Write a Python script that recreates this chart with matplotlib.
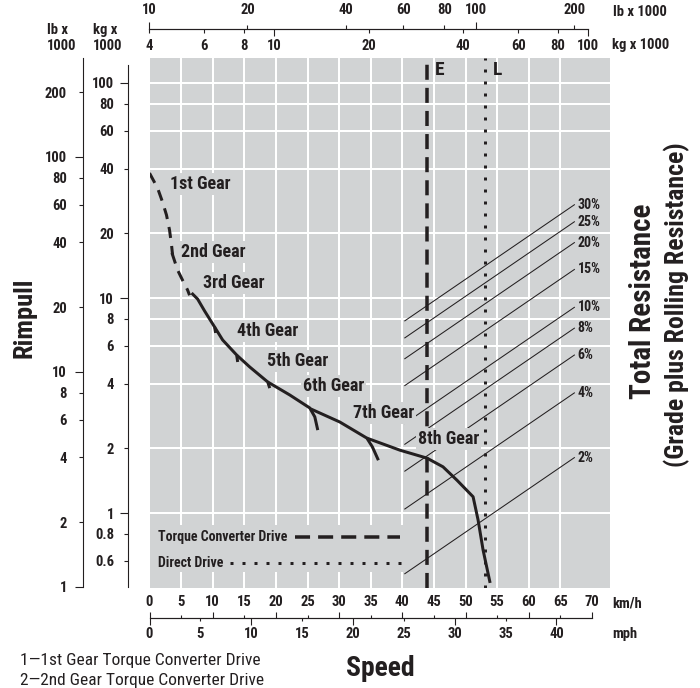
import matplotlib
matplotlib.use('Agg')
import matplotlib.pyplot as plt
from matplotlib import transforms
from matplotlib.ticker import FixedLocator, FuncFormatter
from matplotlib.patches import Rectangle

plt.rcParams['font.family'] = ['Roboto Condensed', 'DejaVu Sans']

# ---------------- data ----------------
gear_names = ['1st Gear', '2nd Gear', '3rd Gear', '4th Gear',
              '5th Gear', '6th Gear', '7th Gear', '8th Gear']
# speed in km/h, rimpull in kg x 1000
gear1_kmh = [0.0, 1.27, 2.06, 2.69, 3.17, 3.49, 3.65]
gear1_kg = [38.1, 32.5, 27.96, 24.3, 20.7, 17.6, 15.85]
gear2_kmh = [3.55, 4.44, 5.23, 6.02, 6.34]
gear2_kg = [16.2, 13.5, 12.1, 10.9, 10.3]
gear3_kmh = [6.66, 7.61, 8.72, 10.30, 10.46]
gear3_kg = [10.55, 9.89, 8.70, 7.33, 6.88]
gear4_kmh = [10.30, 11.57, 13.79, 13.95]
gear4_kg = [7.33, 6.38, 5.43, 5.04]
gear5_kmh = [13.79, 15.85, 18.70, 19.02]
gear5_kg = [5.43, 4.78, 4.07, 3.81]
gear6_kmh = [18.70, 22.19, 25.36, 26.15, 26.62]
gear6_kg = [4.07, 3.54, 3.08, 2.80, 2.43]
gear7_kmh = [25.5, 30.11, 34.39, 35.26, 36.21]
gear7_kg = [3.05, 2.65, 2.23, 2.03, 1.76]
gear8_kmh = [34.39, 39.62, 43.90, 46.43, 48.65, 51.19, 51.98, 52.77, 53.88]
gear8_kg = [2.23, 1.96, 1.80, 1.64, 1.42, 1.19, 0.928, 0.673, 0.473]
gear_converter = [True, True, False, False, False, False, False, False]

# total resistance lines (grade %), drawn over the gross-weight range (kg x 1000)
grades = [30, 25, 20, 15, 10, 8, 6, 4, 2]
grade_weight_range = [26.1, 90.5]
empty_weight = 30.8     # kg x 1000  (E)
loaded_weight = 47.0    # kg x 1000  (L)

# axis ticks
top_kg_ticks = [4, 6, 8, 10, 20, 40, 60, 80, 100]
top_lb_ticks = [10, 20, 40, 60, 80, 100, 200]
rim_kg_ticks = [100, 80, 60, 40, 20, 10, 8, 6, 4, 2, 1, 0.8, 0.6]
rim_lb_ticks = [200, 100, 80, 60, 40, 20, 10, 8, 6, 4, 2, 1]
kmh_ticks = list(range(0, 71, 5))
mph_ticks = list(range(0, 41, 5))
grid_kg = [100, 80, 60, 40, 20, 10, 8, 6, 4, 2, 1]
grid_kmh = list(range(5, 66, 5))
KG_PER_LB = 0.4536
KMH_PER_MPH = 1.609344

# ---------------- style ----------------
GRAY = '#d1d3d4'
INK = '#231f20'
W, H = 700, 688
PX = 72 / 100.0  # points per pixel
TICK_FS = 10.5


def fx(x):
    return x / W


def fy(y):
    return 1 - y / H


def fmt(v, p=None):
    return f'{v:g}'


def bold_labels(axis_obj):
    for lab in axis_obj.get_ticklabels(which='both'):
        lab.set_fontweight('bold')


fig = plt.figure(figsize=(W / 100, H / 100), dpi=100)

# ---------------- main rimpull plot ----------------
ax = fig.add_axes([fx(149.5), fy(588), (610 - 149.5) / W, (588 - 57.5) / H])
ax.set_facecolor(GRAY)
ax.set_yscale('log')
ax.set_ylim(0.448, 131.4)
ax.set_xlim(0, 70 * (610 - 149.5) / (592 - 149.5))
for s in ['top', 'right', 'bottom']:
    ax.spines[s].set_visible(False)
ax.spines['left'].set_position(('outward', 22 * PX))
ax.spines['left'].set_bounds(0.453, 121)
ax.spines['left'].set_linewidth(1.1 * PX)
ax.spines['left'].set_color(INK)
ax.set_xticks([])
ax.yaxis.set_major_locator(FixedLocator([t for t in rim_kg_ticks if t in (1, 10, 100)]))
ax.yaxis.set_minor_locator(FixedLocator([t for t in rim_kg_ticks if t not in (1, 10, 100)]))
ax.yaxis.set_major_formatter(FuncFormatter(fmt))
ax.yaxis.set_minor_formatter(FuncFormatter(fmt))
ax.tick_params(axis='y', which='major', length=8 * PX, width=1.1 * PX, pad=5.5 * PX,
               labelsize=TICK_FS, colors=INK)
ax.tick_params(axis='y', which='minor', length=4 * PX, width=1.1 * PX, pad=9.5 * PX,
               labelsize=TICK_FS, colors=INK)
bold_labels(ax.yaxis)

# grid
for g in grid_kg:
    ax.axhline(g, color='white', lw=2 * PX, zorder=0.5)
for v in grid_kmh:
    ax.axvline(v, color='white', lw=2 * PX, zorder=0.5)

# lb rimpull axis
ax_lb = ax.twinx()
ax_lb.set_yscale('log')
ax_lb.set_ylim(0.448 / KG_PER_LB, 131.4 / KG_PER_LB)
for s in ['top', 'right', 'bottom']:
    ax_lb.spines[s].set_visible(False)
ax_lb.spines['left'].set_visible(True)
ax_lb.spines['left'].set_position(('outward', 66.5 * PX))
ax_lb.spines['left'].set_bounds(1.0, 289)
ax_lb.spines['left'].set_linewidth(1.1 * PX)
ax_lb.spines['left'].set_color(INK)
ax_lb.yaxis.set_ticks_position('left')
ax_lb.yaxis.set_major_locator(FixedLocator([t for t in rim_lb_ticks if t in (1, 10, 100)]))
ax_lb.yaxis.set_minor_locator(FixedLocator([t for t in rim_lb_ticks if t not in (1, 10, 100)]))
ax_lb.yaxis.set_major_formatter(FuncFormatter(fmt))
ax_lb.yaxis.set_minor_formatter(FuncFormatter(fmt))
ax_lb.tick_params(axis='y', which='major', length=8 * PX, width=1.1 * PX, pad=8 * PX,
                  labelsize=TICK_FS, colors=INK)
ax_lb.tick_params(axis='y', which='minor', length=4 * PX, width=1.1 * PX, pad=12 * PX,
                  labelsize=TICK_FS, colors=INK)
bold_labels(ax_lb.yaxis)

# ---------------- top gross weight scales ----------------
axk = fig.add_axes([fx(149), fy(29), (588 - 149) / W, 0.5 / H])
axk.set_xscale('log')
axk.set_xlim(4, 100)
axk.patch.set_visible(False)
axk.set_yticks([])
for s in ['top', 'left', 'right']:
    axk.spines[s].set_visible(False)
axk.spines['bottom'].set_linewidth(1.2 * PX)
axk.spines['bottom'].set_color(INK)
axk.xaxis.set_major_locator(FixedLocator([t for t in top_kg_ticks if t in (10, 100)]))
axk.xaxis.set_minor_locator(FixedLocator([t for t in top_kg_ticks if t not in (10, 100)]))
axk.xaxis.set_major_formatter(FuncFormatter(fmt))
axk.xaxis.set_minor_formatter(FuncFormatter(fmt))
axk.tick_params(axis='x', which='major', length=7 * PX, width=1.1 * PX, pad=3 * PX,
                labelsize=TICK_FS, colors=INK)
axk.tick_params(axis='x', which='minor', length=4 * PX, width=1.1 * PX, pad=6 * PX,
                labelsize=TICK_FS, colors=INK)
bold_labels(axk.xaxis)

axl = fig.add_axes([fx(149), fy(29), (588 - 149) / W, 0.5 / H])
axl.set_xscale('log')
axl.set_xlim(10, 10 * 10 ** (439 / 327))
axl.patch.set_visible(False)
axl.set_yticks([])
for s in axl.spines.values():
    s.set_visible(False)
axl.xaxis.tick_top()
axl.xaxis.set_major_locator(FixedLocator([t for t in top_lb_ticks if t in (10, 100)]))
axl.xaxis.set_minor_locator(FixedLocator([t for t in top_lb_ticks if t not in (10, 100)]))
axl.xaxis.set_major_formatter(FuncFormatter(fmt))
axl.xaxis.set_minor_formatter(FuncFormatter(fmt))
axl.tick_params(axis='x', which='major', length=7 * PX, width=1.1 * PX, pad=4 * PX,
                labelsize=TICK_FS, colors=INK)
axl.tick_params(axis='x', which='minor', length=4 * PX, width=1.1 * PX, pad=7 * PX,
                labelsize=TICK_FS, colors=INK)
bold_labels(axl.xaxis)

fig.text(fx(613), fy(12), 'lb x 1000', ha='left', va='center', fontsize=TICK_FS,
         fontweight='bold', color=INK)
fig.text(fx(612), fy(45), 'kg x 1000', ha='left', va='center', fontsize=TICK_FS,
         fontweight='bold', color=INK)
fig.text(fx(47), fy(38), 'lb x\n1000', ha='left', va='center', fontsize=TICK_FS,
         fontweight='bold', color=INK, linespacing=1.2)
fig.text(fx(93), fy(38), 'kg x\n1000', ha='left', va='center', fontsize=TICK_FS,
         fontweight='bold', color=INK, linespacing=1.2)

# ---------------- bottom speed scales ----------------
axs = fig.add_axes([fx(149.5), fy(618), (592 - 149.5) / W, 0.5 / H])
axs.set_xlim(0, 70)
axs.patch.set_visible(False)
axs.set_yticks([])
for s in ['top', 'left', 'right']:
    axs.spines[s].set_visible(False)
axs.spines['bottom'].set_linewidth(1.2 * PX)
axs.spines['bottom'].set_color(INK)
axs.xaxis.tick_top()
axs.xaxis.set_major_locator(FixedLocator([t for t in kmh_ticks if t % 10 == 0]))
axs.xaxis.set_minor_locator(FixedLocator([t for t in kmh_ticks if t % 10 != 0]))
axs.xaxis.set_major_formatter(FuncFormatter(fmt))
axs.xaxis.set_minor_formatter(FuncFormatter(fmt))
axs.tick_params(axis='x', which='major', length=6 * PX, width=1.1 * PX, pad=2 * PX,
                labelsize=TICK_FS, colors=INK)
axs.tick_params(axis='x', which='minor', length=3 * PX, width=1.1 * PX, pad=5 * PX,
                labelsize=TICK_FS, colors=INK)
bold_labels(axs.xaxis)

sec = axs.secondary_xaxis('bottom', functions=(lambda k: k / KMH_PER_MPH,
                                               lambda m: m * KMH_PER_MPH))
sec.spines['bottom'].set_visible(False)
sec.xaxis.set_major_locator(FixedLocator([t for t in mph_ticks if t % 10 == 0]))
sec.xaxis.set_minor_locator(FixedLocator([t for t in mph_ticks if t % 10 != 0]))
sec.xaxis.set_major_formatter(FuncFormatter(fmt))
sec.xaxis.set_minor_formatter(FuncFormatter(fmt))
sec.tick_params(axis='x', which='major', length=7 * PX, width=1.1 * PX, pad=2 * PX,
                labelsize=TICK_FS, colors=INK)
sec.tick_params(axis='x', which='minor', length=3 * PX, width=1.1 * PX, pad=6 * PX,
                labelsize=TICK_FS, colors=INK)
bold_labels(sec.xaxis)

fig.text(fx(612), fy(604), 'km/h', ha='left', va='center', fontsize=TICK_FS,
         fontweight='bold', color=INK)
fig.text(fx(612), fy(634), 'mph', ha='left', va='center', fontsize=TICK_FS,
         fontweight='bold', color=INK)

# ---------------- resistance lines, E / L lines ----------------
trans_w = transforms.blended_transform_factory(axk.transData, ax.transData)
trans_wa = transforms.blended_transform_factory(axk.transData, ax.transAxes)
for g in grades:
    rims = [w * g / 100 for w in grade_weight_range]
    ax.plot(grade_weight_range, rims, transform=trans_w, color=INK, lw=0.75, zorder=2)
    ax.annotate(f'{g}%', xy=(grade_weight_range[1], rims[1]), xycoords=trans_w,
                xytext=(3 * PX, 0), textcoords='offset points', ha='left', va='center',
                fontsize=10, fontweight='bold', color=INK)

ax.plot([empty_weight, empty_weight], [0, 1], transform=trans_wa, color=INK,
        lw=3.5 * PX, ls=(0, (4.3, 2.3)), dash_capstyle='butt', zorder=3)
ax.plot([loaded_weight, loaded_weight], [0, 1], transform=trans_wa, color=INK,
        lw=3 * PX, ls=(0, (1, 3)), dash_capstyle='butt', zorder=3)
ax.annotate('E', xy=(empty_weight, 1), xycoords=trans_wa, xytext=(12.5 * PX, -12.5 * PX),
            textcoords='offset points', ha='center', va='center', fontsize=14,
            fontweight='bold', color=INK)
ax.annotate('L', xy=(loaded_weight, 1), xycoords=trans_wa, xytext=(13 * PX, -12.5 * PX),
            textcoords='offset points', ha='center', va='center', fontsize=14,
            fontweight='bold', color=INK)

# ---------------- gear curves ----------------
gears_kmh = [gear1_kmh, gear2_kmh, gear3_kmh, gear4_kmh, gear5_kmh, gear6_kmh,
             gear7_kmh, gear8_kmh]
gears_kg = [gear1_kg, gear2_kg, gear3_kg, gear4_kg, gear5_kg, gear6_kg,
            gear7_kg, gear8_kg]
for xs, ys, tc in zip(gears_kmh, gears_kg, gear_converter):
    if tc:
        ax.plot(xs, ys, color=INK, lw=3 * PX, ls=(0, (3.7, 2.7)),
                dash_capstyle='butt', zorder=4)
    else:
        ax.plot(xs, ys, color=INK, lw=3 * PX, solid_capstyle='butt',
                solid_joinstyle='round', zorder=4)

# gear labels (pixel anchors: left edge, vertical centre)
gear_label_px = [(170, 184), (181, 252), (203, 283), (237, 331),
                 (267, 361), (303, 386), (353, 413), (418, 439)]
for name, (lx, ly) in zip(gear_names, gear_label_px):
    fig.text(fx(lx), fy(ly), name, ha='left', va='center', fontsize=13,
             fontweight='bold', color=INK,
             bbox=dict(boxstyle='square,pad=0.12', fc=GRAY, ec='none'))

# ---------------- legend box ----------------
x_leg_end = (404 - 149.5) / 460.5
ax.add_patch(Rectangle((0, (588 - 572) / 530.5), x_leg_end, (572 - 525) / 530.5,
                       transform=ax.transAxes, fc=GRAY, ec='none', zorder=1))
y_tc = (588 - 537) / 530.5
y_dd = (588 - 563) / 530.5
ax.plot([(295 - 149.5) / 460.5, (400 - 149.5) / 460.5], [y_tc, y_tc],
        transform=ax.transAxes, color=INK, lw=3.5 * PX, ls=(0, (4.3, 2.3)),
        dash_capstyle='butt', zorder=3)
ax.plot([(230 - 149.5) / 460.5, (402 - 149.5) / 460.5], [y_dd, y_dd],
        transform=ax.transAxes, color=INK, lw=3 * PX, ls=(0, (1, 3)),
        dash_capstyle='butt', zorder=3)
ax.text((158 - 149.5) / 460.5, y_tc, 'Torque Converter Drive', transform=ax.transAxes,
        ha='left', va='center', fontsize=10, fontweight='bold', color=INK)
ax.text((158 - 149.5) / 460.5, y_dd, 'Direct Drive', transform=ax.transAxes,
        ha='left', va='center', fontsize=10, fontweight='bold', color=INK)

# ---------------- titles and notes ----------------
fig.text(fx(25), fy(318), 'Rimpull', rotation=90, ha='center', va='center',
         fontsize=19, fontweight='bold', color=INK)
fig.text(fx(643), fy(301), 'Total Resistance', rotation=90, ha='center', va='center',
         fontsize=21, fontweight='bold', color=INK)
fig.text(fx(677), fy(305), '(Grade plus Rolling Resistance)', rotation=90,
         ha='center', va='center', fontsize=18.5, fontweight='bold', color=INK)
fig.text(fx(380), fy(668), 'Speed', ha='center', va='center', fontsize=20,
         fontweight='bold', color=INK)
fig.text(fx(20), fy(660), '1\u20141st Gear Torque Converter Drive', ha='left',
         va='center', fontsize=12.5, color=INK)
fig.text(fx(20), fy(681), '2\u20142nd Gear Torque Converter Drive', ha='left',
         va='center', fontsize=12.5, color=INK)

fig.savefig('out.png', dpi=100)
